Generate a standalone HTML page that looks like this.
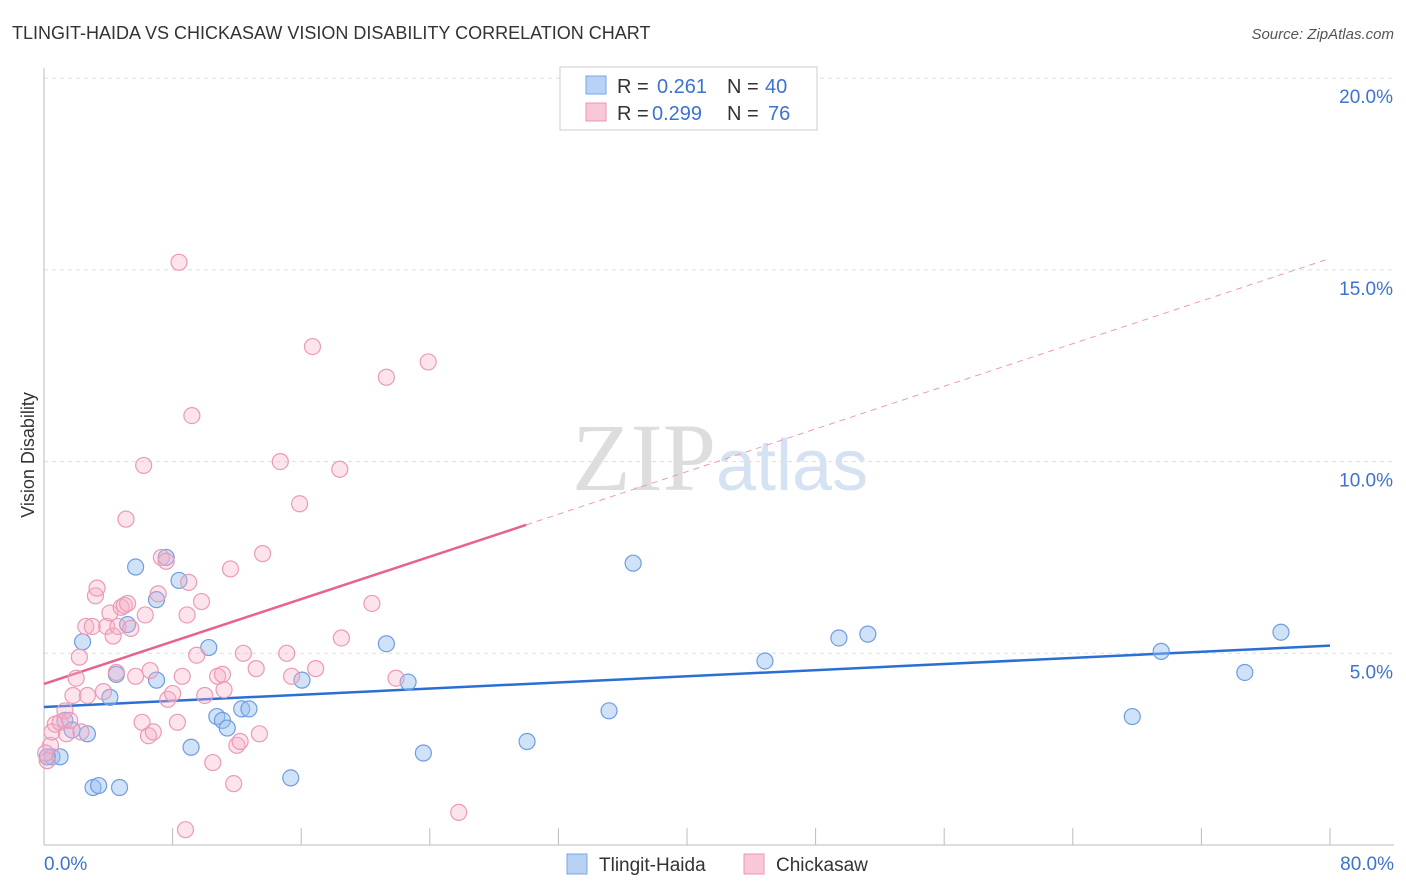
<!DOCTYPE html>
<html><head><meta charset="utf-8"><style>
body{margin:0;background:#fff;font-family:"Liberation Sans",sans-serif;}
svg{display:block}
</style></head><body>
<svg id="chart" width="1406" height="892">
<text x="12" y="39" font-size="18" fill="#333">TLINGIT-HAIDA VS CHICKASAW VISION DISABILITY CORRELATION CHART</text>
<text x="1394" y="39" font-size="15" fill="#555" font-style="italic" text-anchor="end">Source: ZipAtlas.com</text>
<text x="716" y="490" font-size="96" fill="#ddd" text-anchor="end" font-family="Liberation Serif">ZIP</text>
<text x="716" y="490" font-size="72" fill="#d5e2f3">atlas</text>
<text transform="translate(34,455) rotate(-90)" font-size="18" fill="#333" text-anchor="middle">Vision Disability</text>
<g id="grid"></g><g id="axes"></g><g id="lines"></g><g id="pts"></g>
<g>
<rect x="560" y="67" width="257" height="63" fill="#fff" stroke="#ccc"/>
<rect x="586" y="76" width="20" height="18" fill="#b8d2f5" stroke="#7aa6e6"/>
<text x="617" y="93" font-size="20" fill="#333">R =</text><text x="657" y="93" font-size="20" fill="#3b73d1">0.261</text>
<text x="727" y="93" font-size="20" fill="#333">N =</text><text x="765" y="93" font-size="20" fill="#3b73d1">40</text>
<rect x="586" y="103" width="20" height="18" fill="#f8c8d8" stroke="#ec96b3"/>
<text x="617" y="120" font-size="20" fill="#333">R =</text><text x="652" y="120" font-size="20" fill="#3b73d1">0.299</text>
<text x="727" y="120" font-size="20" fill="#333">N =</text><text x="768" y="120" font-size="20" fill="#3b73d1">76</text>
</g>
<g>
<rect x="567" y="854" width="20" height="20" fill="#b8d2f5" stroke="#7aa6e6"/>
<text x="599" y="871" font-size="19" fill="#333">Tlingit-Haida</text>
<rect x="744" y="854" width="20" height="20" fill="#f8c8d8" stroke="#ec96b3"/>
<text x="776" y="871" font-size="19" fill="#333">Chickasaw</text>
</g>
</svg>
<script>
const xTicks=[0,8,16,24,32,40,48,56,64,72,80];
const yTicks=[5,10,15,20];
const blueX=[0.5,1.0,1.3,1.75,2.4,2.7,3.05,3.4,4.1,4.5,4.7,5.2,5.7,7.0,7.0,7.6,8.4,9.15,10.25,10.75,11.1,11.4,12.3,12.75,15.35,16.05,21.3,22.65,23.6,30.05,35.15,36.65,44.85,49.45,51.25,67.7,69.5,74.7,76.95,0.2];
const blueY=[2.3,2.3,3.25,3.0,5.3,2.9,1.5,1.55,3.85,4.45,1.5,5.75,7.25,6.4,4.3,7.5,6.9,2.55,5.15,3.35,3.25,3.05,3.55,3.55,1.75,4.3,5.25,4.25,2.4,2.7,3.5,7.35,4.8,5.4,5.5,3.35,5.05,4.5,5.55,2.3];
const pinkX=[0.2,0.4,0.5,0.7,1.0,1.3,1.4,1.6,1.8,2.0,2.2,2.3,2.6,2.7,3.0,3.2,3.3,3.7,3.9,4.1,4.3,4.5,4.6,4.8,5.0,5.1,5.2,5.4,5.7,6.1,6.2,6.3,6.5,6.6,6.8,7.1,7.3,7.6,7.7,8.0,8.3,8.4,8.6,8.8,8.9,9.0,9.2,9.5,9.8,10.0,10.5,10.8,11.1,11.2,11.6,11.8,12.0,12.2,12.4,13.2,13.4,13.6,14.7,15.1,15.4,15.9,16.7,16.9,18.4,18.5,20.4,21.3,21.9,23.9,25.8,0.1];
const pinkY=[2.2,2.6,2.95,3.15,3.2,3.5,2.9,3.25,3.9,4.35,4.9,2.95,5.7,3.9,5.7,6.5,6.7,4.0,5.7,6.05,5.45,4.5,5.7,6.2,6.25,8.5,6.3,5.65,4.4,3.2,9.9,6.0,2.85,4.55,2.95,6.55,7.5,7.4,3.8,3.95,3.2,15.2,4.4,0.4,6.0,6.85,11.2,4.95,6.35,3.9,2.15,4.4,4.45,4.05,7.2,1.6,2.6,2.7,5.0,4.6,2.9,7.6,10.0,5.0,4.4,8.9,13.0,4.6,9.8,5.4,6.3,12.2,4.35,12.6,0.85,2.4];
const blueLine=[3.6,5.2], pinkLine=[4.2,8.35], pinkDash=15.3;
const X=v=>44+v/80*1286, Y=v=>845-v/5*191.7;
const NS="http://www.w3.org/2000/svg";
function mk(t,a,p){const e=document.createElementNS(NS,t);for(const k in a)e.setAttribute(k,a[k]);document.getElementById(p).appendChild(e);return e;}
yTicks.forEach(v=>{
 const l=mk('line',{x1:44,x2:1394,y1:Y(v),y2:Y(v),stroke:'#ddd','stroke-dasharray':'4,4'},'grid');
 
 
 const t=mk('text',{x:1393,y:Y(v)+25,'font-size':19,fill:'#3b73d1','text-anchor':'end'},'axes');t.textContent=v.toFixed(1)+'%';
 
 
});
const ax=mk('line',{x1:44,x2:1394,y1:845,y2:845,stroke:'#bbb'},'axes');


const ay=mk('line',{x1:44,x2:44,y1:68,y2:845,stroke:'#bbb'},'axes');


xTicks.forEach(v=>{const l=mk('line',{x1:X(v),x2:X(v),y1:828,y2:845,stroke:'#bbb'},'axes');
 
 });
[[0,'0.0%','start',44],[80,'80.0%','end',1394]].forEach(d=>{const t=mk('text',{x:d[3],y:870,'font-size':19,fill:'#3b73d1','text-anchor':d[2]},'axes');t.textContent=d[1];
 
 });
blueX.forEach((v,i)=>{const c=mk('circle',{cx:X(v),cy:Y(blueY[i]),r:8,fill:'rgba(150,190,240,0.45)',stroke:'#6f9de0','stroke-width':1.2},'pts');
 
 });
pinkX.forEach((v,i)=>{const c=mk('circle',{cx:X(v),cy:Y(pinkY[i]),r:8,fill:'rgba(245,175,200,0.35)',stroke:'#eb9ab6','stroke-width':1.2},'pts');
 
 });
const bl=mk('line',{x1:X(0),y1:Y(blueLine[0]),x2:X(80),y2:Y(blueLine[1]),stroke:'#2a6fd4','stroke-width':2.5},'lines');


const pl=mk('line',{x1:X(0),y1:Y(pinkLine[0]),x2:X(30),y2:Y(pinkLine[1]),stroke:'#e8628e','stroke-width':2.5},'lines');


const pd=mk('line',{x1:X(30),y1:Y(pinkLine[1]),x2:X(80),y2:Y(pinkDash),stroke:'#eb9ab6','stroke-width':1,'stroke-dasharray':'6,5'},'lines');


</script>
</body></html>
